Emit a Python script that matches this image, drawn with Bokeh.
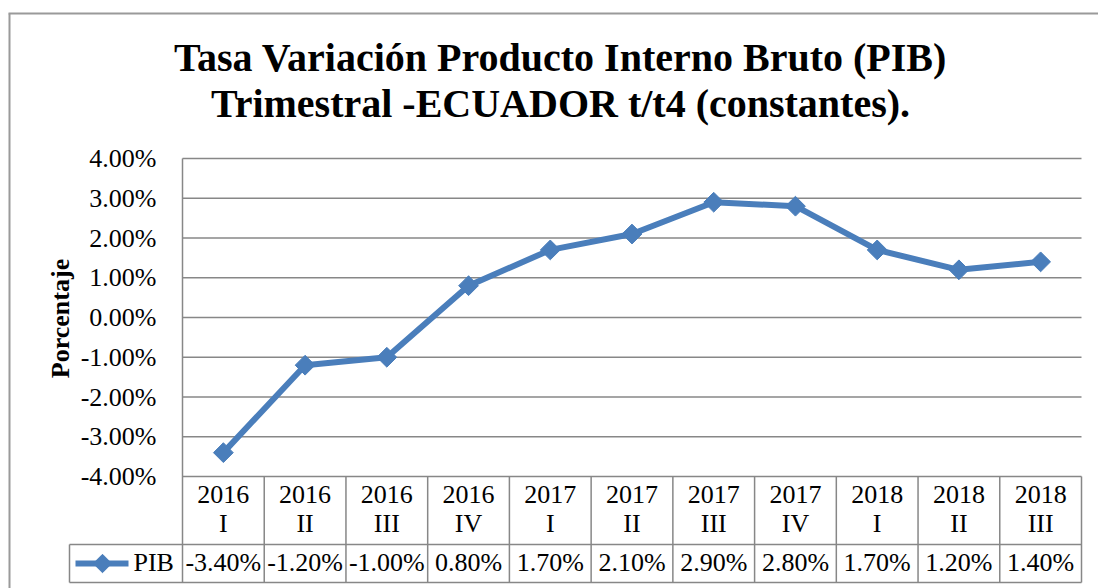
import numpy as np
from bokeh.plotting import figure
from bokeh.models import Range1d
from bokeh.core.properties import value
from bokeh.embed import file_html
from bokeh.resources import INLINE

# ---------------- data ----------------
years = ["2016", "2016", "2016", "2016", "2017", "2017", "2017", "2017", "2018", "2018", "2018"]
quarters = ["I", "II", "III", "IV", "I", "II", "III", "IV", "I", "II", "III"]
pib = [-3.40, -1.20, -1.00, 0.80, 1.70, 2.10, 2.90, 2.80, 1.70, 1.20, 1.40]
y_ticks = [-4, -3, -2, -1, 0, 1, 2, 3, 4]
y_tick_labels = ["%.2f%%" % t for t in y_ticks]
pib_labels = ["%.2f%%" % v for v in pib]
series_name = "PIB"
title_lines = ["Tasa Variación Producto Interno Bruto (PIB)",
               "Trimestral -ECUADOR t/t4 (constantes)."]
y_title = "Porcentaje"

# ---------------- layout helpers (screen pixels -> data units) ----------------
W, H = 1098, 588
ORIGIN = 0                              # canvas position on the page
LEFT_PX, RIGHT_PX = 182, 1081          # plot area horizontal extent
TOP_PX, BOT_PX = 158, 476              # 4% and -4% gridlines
n = len(pib)
XS = (RIGHT_PX - LEFT_PX) / n
YS = (BOT_PX - TOP_PX) / (y_ticks[-1] - y_ticks[0])


def px(xp):
    return -0.5 + (xp - LEFT_PX) / XS


def py(yp):
    return y_ticks[-1] - (yp - TOP_PX) / YS


FONT = value("Liberation Serif")
GRID = "#878787"
BLUE = "#4a7ebb"
FS = "26px"

p = figure(width=W, height=H, output_backend="svg", toolbar_location=None,
           x_range=Range1d(px(ORIGIN), px(ORIGIN + W)),
           y_range=Range1d(py(ORIGIN + H), py(ORIGIN)),
           x_axis_type=None, y_axis_type=None, min_border=0,
           background_fill_color="white", border_fill_color="white")
p.grid.visible = False
p.outline_line_color = None

# outer chart border
p.segment(x0=[px(8), px(9)], x1=[px(1110), px(9)],
          y0=[py(13), py(13)], y1=[py(13), py(600)],
          line_color="#9a9a9a", line_width=2)

# title
p.text(x=[px(560), px(560)], y=[py(57), py(103)], text=title_lines,
       text_font=FONT, text_font_style="bold", text_font_size="40px",
       text_align="center", text_baseline="middle", text_color="black")

# y-axis title
p.text(x=[px(60)], y=[py(318)], text=[y_title], angle=np.pi / 2,
       text_font=FONT, text_font_style="bold", text_font_size="26px",
       text_align="center", text_baseline="middle", text_color="black")

# gridlines
p.segment(x0=[px(LEFT_PX)] * len(y_ticks), x1=[px(RIGHT_PX)] * len(y_ticks),
          y0=y_ticks, y1=y_ticks, line_color=GRID, line_width=1.5)

# tick labels
p.text(x=[px(156)] * len(y_ticks), y=y_ticks, text=y_tick_labels,
       text_font=FONT, text_font_size=FS, text_align="right",
       text_baseline="middle", text_color="black")

# left axis line (continues through table)
p.segment(x0=[-0.5], x1=[-0.5], y0=[y_ticks[-1]], y1=[py(582)],
          line_color=GRID, line_width=1.5)

# data table grid
idx = list(range(n))
bounds = [i + 0.5 for i in idx]
p.segment(x0=bounds, x1=bounds, y0=[y_ticks[0]] * n, y1=[py(582)] * n,
          line_color=GRID, line_width=1.5)
p.segment(x0=[px(69), px(69), px(69)], x1=[n - 0.5, n - 0.5, px(69)],
          y0=[py(544), py(582), py(544)], y1=[py(544), py(582), py(582)],
          line_color=GRID, line_width=1.5)

# table header text
p.text(x=idx, y=[py(494)] * n, text=years, text_font=FONT, text_font_size=FS,
       text_align="center", text_baseline="middle", text_color="black")
p.text(x=idx, y=[py(523)] * n, text=quarters, text_font=FONT, text_font_size=FS,
       text_align="center", text_baseline="middle", text_color="black")
# table values
p.text(x=idx, y=[py(562)] * n, text=pib_labels, text_font=FONT, text_font_size=FS,
       text_align="center", text_baseline="middle", text_color="black")

# legend key in table
p.line(x=[px(75), px(128)], y=[py(563), py(563)], line_color=BLUE, line_width=6)
p.scatter(x=[px(102)], y=[py(563)], marker="square", angle=np.pi / 4, size=13,
          fill_color=BLUE, line_color=BLUE)
p.text(x=[px(133)], y=[py(562)], text=[series_name], text_font=FONT,
       text_font_size=FS, text_align="left", text_baseline="middle",
       text_color="black")

# series
p.line(x=idx, y=pib, line_color=BLUE, line_width=6, line_join="round")
p.scatter(x=idx, y=pib, marker="square", angle=np.pi / 4, size=14,
          fill_color=BLUE, line_color=BLUE)

open("out.html", "w").write(file_html(p, INLINE))
